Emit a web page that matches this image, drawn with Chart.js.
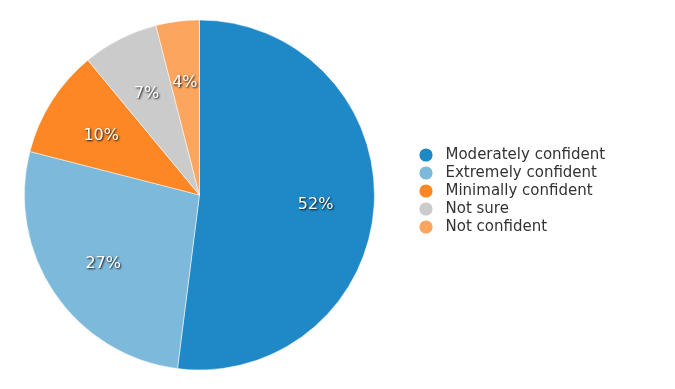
<!DOCTYPE html>
<html>
<head>
<meta charset="utf-8">
<script src="https://cdn.jsdelivr.net/npm/chart.js@4"></script>
<style>
  html, body { margin: 0; padding: 0; background: #fff; }
  #wrap { width: 675px; height: 389px; }
</style>
</head>
<body>
<div id="wrap"><canvas id="chart"></canvas></div>
<script>
const categories = ["Moderately confident", "Extremely confident", "Minimally confident", "Not sure", "Not confident"];
const shares = [52, 27, 10, 7, 4];
const colours = ["#1f88c7", "#7db9da", "#fd8724", "#cbcbcb", "#fca55f"];

// small round markers for the legend, one per colour
const dots = colours.map(function (c) {
  const cv = document.createElement("canvas");
  cv.width = 14;
  cv.height = 14;
  const g = cv.getContext("2d");
  g.fillStyle = c;
  g.beginPath();
  g.arc(7, 7, 6.6, 0, Math.PI * 2);
  g.fill();
  return cv;
});

// white percent labels with a dark drop shadow, inside each slice
const sliceLabels = {
  id: "sliceLabels",
  afterDatasetsDraw(chart) {
    const ctx = chart.ctx;
    const meta = chart.getDatasetMeta(0);
    ctx.save();
    ctx.font = '16px "DejaVu Sans", Verdana, sans-serif';
    ctx.fillStyle = "#fff";
    ctx.textAlign = "center";
    ctx.textBaseline = "middle";
    ctx.shadowColor = "rgba(0,0,0,0.9)";
    ctx.shadowOffsetX = 1;
    ctx.shadowOffsetY = 1;
    ctx.shadowBlur = 2;
    meta.data.forEach(function (arc, i) {
      const p = arc.getProps(["x", "y", "startAngle", "endAngle", "outerRadius"], true);
      const mid = (p.startAngle + p.endAngle) / 2;
      const r = p.outerRadius * 0.665;
      ctx.fillText(shares[i] + "%", p.x + Math.cos(mid) * r, p.y + Math.sin(mid) * r + 3);
    });
    ctx.restore();
  }
};

// the legend sits a bit further right and higher than chart.js would put it
const legendSpot = {
  id: "legendSpot",
  afterLayout(chart) {
    const lg = chart.legend;
    const dx = 411 - lg.left;
    lg.left += dx;
    lg.right += dx;
    lg.top -= 4;
    lg.bottom -= 4;
  }
};

new Chart(document.getElementById("chart"), {
  type: "pie",
  data: {
    labels: categories,
    datasets: [{
      data: shares,
      backgroundColor: colours,
      borderColor: "rgba(255,255,255,0.5)",
      borderWidth: 1,
      radius: 175
    }]
  },
  options: {
    responsive: true,
    maintainAspectRatio: false,
    animation: false,
    layout: { padding: { left: 0, right: 72, top: 20, bottom: 19 } },
    plugins: {
      legend: {
        position: "right",
        labels: {
          usePointStyle: true,
          pointStyleWidth: 24,
          boxHeight: 9,
          padding: 3,
          color: "#333",
          font: { family: '"DejaVu Sans", Verdana, sans-serif', size: 15 },
          generateLabels(chart) {
            const items = Chart.overrides.pie.plugins.legend.labels.generateLabels(chart);
            return items.map(function (item, i) {
              item.pointStyle = dots[i];
              return item;
            });
          }
        }
      },
      tooltip: { enabled: false }
    }
  },
  plugins: [sliceLabels, legendSpot]
});
</script>
</body>
</html>
